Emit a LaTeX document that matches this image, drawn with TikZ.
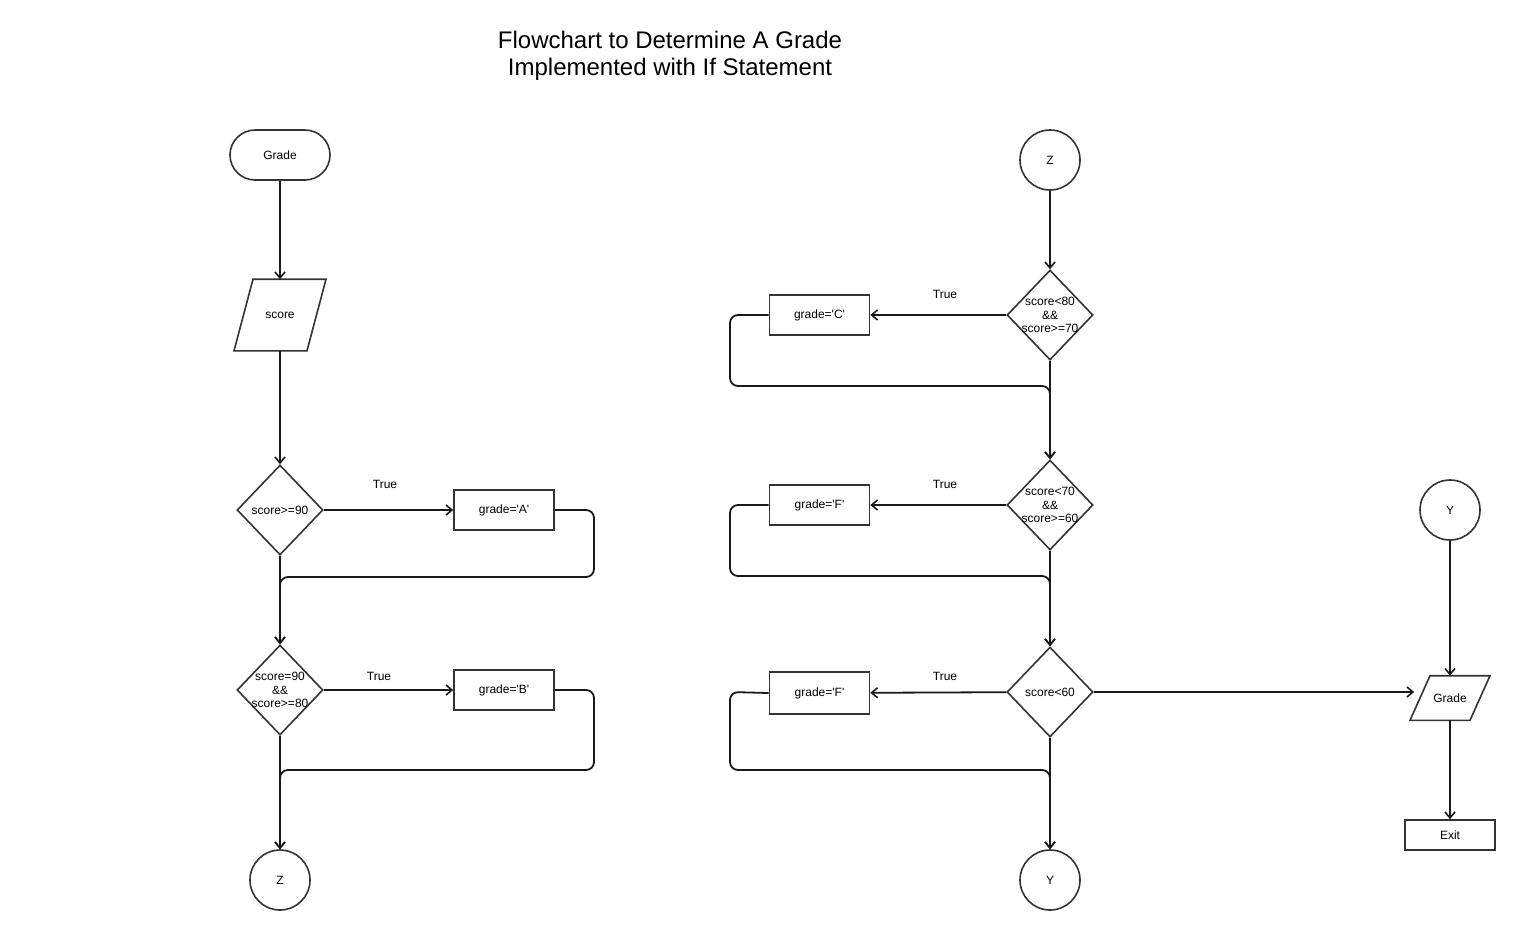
\documentclass[tikz,border=0pt]{standalone}
\usepackage{fontspec}
\setmainfont{Liberation Sans}
\usetikzlibrary{shapes.geometric,arrows.meta}
\newcommand{\sq}{\textquotesingle}
\begin{document}
\begin{tikzpicture}[x=1pt,y=-1pt,
  line width=1.6pt,
  every node/.style={font=\fontsize{12}{14}\selectfont, inner sep=0pt},
  arr/.style={-{Straight Barb[length=6pt,width=10pt,line width=1.6pt]}},
  conn/.style={line width=1.8pt, draw=black!90},
  shp/.style={draw=black!80, line width=1.6pt},
  proc/.style={shp, rectangle, minimum width=100pt, minimum height=40pt},
  dec/.style={shp, diamond, minimum width=86pt, minimum height=90pt, aspect=0.95},
  conc/.style={shp, circle, minimum size=60pt},
  lbl/.style={font=\fontsize{12}{14}\selectfont},
  dtext/.style={font=\fontsize{12}{13.5}\selectfont, align=center}
]
\useasboundingbox (0,0) rectangle (1515,930);
% title
\node[font=\fontsize{24}{27}\selectfont, align=center] (title) at (670,56) {Flowchart to Determine A Grade\\Implemented with If Statement};

% left column
\node[shp, rounded corners=25pt, minimum width=100pt, minimum height=50pt] (start) at (280,155) {Grade};
\node[rectangle, minimum width=83pt, minimum height=70pt] (score) at (280,315) {score};
\draw[shp] ([xshift=-27pt]score.north) -- ([xshift=46pt]score.north) -- ([xshift=27pt]score.south) -- ([xshift=-46pt]score.south) -- cycle;
\node[dec] (d1) at (280,510) {};
\node[dtext] (d1t) at (d1) {score>=90};
\node[proc] (ga) at (504,510) {grade=\sq A\sq};
\node[lbl] (t1) at (385,484) {True};
\node[dec] (d2) at (280,690) {};
\node[dtext] (d2t) at (d2) {score=90\\\&\&\\score>=80};
\node[proc] (gb) at (504,690) {grade=\sq B\sq};
\node[lbl] (t2) at (379,676) {True};
\node[conc] (z1) at (280,880) {Z};

\draw[conn,arr] (start) -- (score);
\draw[conn,arr] (score) -- (d1);
\draw[conn,arr] (d1) -- (ga);
\draw[conn,arr] (d1) -- (d2);
\draw[conn,arr,rounded corners=8pt] (ga.east) -- (594,510) -- (594,577) -- (280,577) -- (d2.north);
\draw[conn,arr] (d2) -- (gb);
\draw[conn,arr] (d2) -- (z1);
\draw[conn,arr,rounded corners=8pt] (gb.east) -- (594,690) -- (594,770) -- (280,770) -- (z1.north);

% right column
\node[conc] (z2) at (1050,160) {Z};
\node[dec] (d3) at (1050,315) {};
\node[dtext] (d3t) at (d3) {score<80\\\&\&\\score>=70};
\node[proc] (gc) at (819.5,315) {grade=\sq C\sq};
\node[lbl] (t3) at (945,294) {True};
\node[dec] (d4) at (1050,505) {};
\node[dtext] (d4t) at (d4) {score<70\\\&\&\\score>=60};
\node[proc] (gf1) at (819.5,505) {grade=\sq F\sq};
\node[lbl] (t4) at (945,484) {True};
\node[dec] (d5) at (1050,692) {};
\node[dtext] (d5t) at (d5) {score<60};
\node[proc, minimum height=42pt] (gf2) at (819.5,693) {grade=\sq F\sq};
\node[lbl] (t5) at (945,676) {True};
\node[conc] (y1) at (1050,880) {Y};

\draw[conn,arr] (z2) -- (d3);
\draw[conn,arr] (d3) -- (gc);
\draw[conn,arr] (d3) -- (d4);
\draw[conn,arr,rounded corners=8pt] (gc.west) -- (730,315) -- (730,386) -- (1050,386) -- (d4.north);
\draw[conn,arr] (d4) -- (gf1);
\draw[conn,arr] (d4) -- (d5);
\draw[conn,arr,rounded corners=8pt] (gf1.west) -- (730,505) -- (730,576) -- (1050,576) -- (d5.north);
\draw[conn,arr] (d5) -- (gf2);
\draw[conn,arr] (d5) -- (y1);
\draw[conn,arr,rounded corners=8pt] (gf2.west) -- (730,692) -- (730,770) -- (1050,770) -- (y1.north);

% far right
\node[conc] (y2) at (1450,510) {Y};
\node[rectangle, minimum width=70pt, minimum height=43pt] (out) at (1450,698) {Grade};
\draw[shp] ([xshift=-20pt]out.north) -- ([xshift=40pt]out.north) -- ([xshift=20pt]out.south) -- ([xshift=-40pt]out.south) -- cycle;
\node[shp, rectangle, minimum width=90pt, minimum height=30pt] (exit) at (1450,835) {Exit};
\draw[conn,arr] (y2) -- (out);
\draw[conn,arr] (d5.east) -- (out.west |- d5.east);
\draw[conn,arr] (out) -- (exit);
\end{tikzpicture}
\end{document}
